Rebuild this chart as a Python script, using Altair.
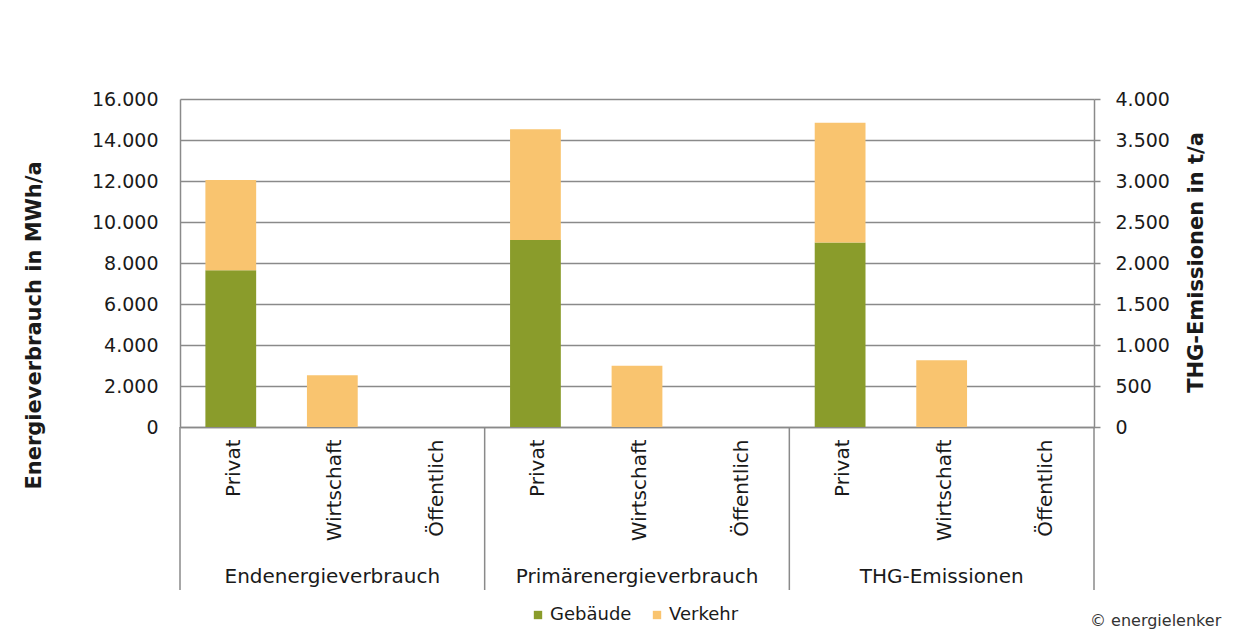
import altair as alt
import pandas as pd

# ---- data ----
groups = ["Endenergieverbrauch", "Primärenergieverbrauch", "THG-Emissionen"]
sectors = ["Privat", "Wirtschaft", "Öffentlich"]
components = ["Gebäude", "Verkehr"]

# Energy (MWh/a), left axis
end_gebaeude = [7650, 0, 0]
end_verkehr = [4400, 2530, 0]
prim_gebaeude = [9120, 0, 0]
prim_verkehr = [5400, 2990, 0]
# Emissions (t/a), right axis
thg_gebaeude = [2250, 0, 0]
thg_verkehr = [1460, 815, 0]

left_ticks = list(range(0, 16001, 2000))
right_ticks = list(range(0, 4001, 500))

colors = ["#8A9C2B", "#F9C46F"]

# ---- build tables ----
cats = [f"{g}|{s}" for g in groups for s in sectors]

def rows(group, geb, ver):
    out = []
    for i, s in enumerate(sectors):
        out.append({"cat": f"{group}|{s}", "comp": "Gebäude", "ord": 0, "v": geb[i]})
        out.append({"cat": f"{group}|{s}", "comp": "Verkehr", "ord": 1, "v": ver[i]})
    return out

energy = pd.DataFrame(rows(groups[0], end_gebaeude, end_verkehr) + rows(groups[1], prim_gebaeude, prim_verkehr))
thg = pd.DataFrame(rows(groups[2], thg_gebaeude, thg_verkehr))

W, H = 914, 328
FONT = "DejaVu Sans"
TXT = "#1a1a1a"
GRID = "#8a8a8a"

xscale = alt.Scale(domain=cats, paddingInner=0, paddingOuter=0)
xaxis = alt.Axis(
    title=None, labelAngle=270, labelAlign="right", labelBaseline="middle",
    labelExpr="split(datum.value, '|')[1]", ticks=False, labelPadding=12,
    labelOffset=3,
    labelFontSize=20, labelFont=FONT, labelColor=TXT,
    domainColor=GRID, domainWidth=1.5, grid=False,
)
X = alt.X("cat:N", scale=xscale, axis=xaxis, sort=cats)

color = alt.Color("comp:N", scale=alt.Scale(domain=components, range=colors),
                  legend=alt.Legend(title=None, orient="none", direction="horizontal",
                                    legendX=349, legendY=507, symbolType="square",
                                    symbolSize=70, symbolStrokeWidth=0,
                                    labelFontSize=18, labelFont=FONT, labelColor=TXT,
                                    columnPadding=16, labelOffset=3))

left = alt.Chart(energy).mark_bar(width=alt.RelativeBandSize(0.5)).encode(
    x=X,
    y=alt.Y("v:Q", stack="zero", scale=alt.Scale(domain=[0, 16000], nice=False),
            axis=alt.Axis(orient="left", values=left_ticks,
                          labelExpr="replace(format(datum.value, ','), ',', '.')",
                          title="Energieverbrauch in MWh/a", titleAngle=270,
                          titleBaseline="middle", titleX=-146, titleY=226,
                          titleFontSize=21, titleFont=FONT, titleFontWeight="bold",
                          titleColor=TXT, labelFontSize=19, labelFont=FONT,
                          labelColor=TXT, ticks=False, labelPadding=22,
                          grid=True, gridColor=GRID, gridWidth=1.5,
                          domainColor=GRID, domainWidth=1.5)),
    color=color,
    order=alt.Order("ord:Q"),
)

right = alt.Chart(thg).mark_bar(width=alt.RelativeBandSize(0.5)).encode(
    x=X,
    y=alt.Y("v:Q", stack="zero", scale=alt.Scale(domain=[0, 4000], nice=False),
            axis=alt.Axis(orient="right", values=right_ticks,
                          labelExpr="replace(format(datum.value, ','), ',', '.')",
                          title="THG-Emissionen in t/a", titleAngle=270,
                          titleBaseline="middle", titleX=102, titleY=163,
                          titleFontSize=21, titleFont=FONT, titleFontWeight="bold",
                          titleColor=TXT, labelFontSize=19, labelFont=FONT,
                          labelColor=TXT, ticks=True, tickSize=6, tickColor=GRID,
                          tickWidth=1.5, labelPadding=15, grid=False,
                          domainColor=GRID, domainWidth=1.5)),
    color=color,
    order=alt.Order("ord:Q"),
)

# group separators below the axis
sep_start = pd.DataFrame({"cat": [f"{g}|{sectors[0]}" for g in groups]})
sep_end = pd.DataFrame({"cat": [f"{groups[-1]}|{sectors[-1]}"]})
sep1 = alt.Chart(sep_start).mark_rule(color=GRID, strokeWidth=1.5).encode(
    x=alt.X("cat:N", scale=xscale, sort=cats, bandPosition=0, axis=xaxis),
    y=alt.value(H), y2=alt.value(H + 163))
sep2 = alt.Chart(sep_end).mark_rule(color=GRID, strokeWidth=1.5).encode(
    x=alt.X("cat:N", scale=xscale, sort=cats, bandPosition=1, axis=xaxis),
    y=alt.value(H), y2=alt.value(H + 163))

# group labels
glab = pd.DataFrame({"cat": [f"{g}|{sectors[1]}" for g in groups], "label": groups})
group_text = alt.Chart(glab).mark_text(fontSize=20, font=FONT, color=TXT,
                                       baseline="middle", align="center").encode(
    x=X, y=alt.value(H + 150), text="label:N")

credit = alt.Chart(pd.DataFrame({"t": ["© energielenker"]})).mark_text(
    fontSize=16, font=FONT, color="#333333", align="left", baseline="middle").encode(
    x=alt.value(W - 4), y=alt.value(H + 194), text="t:N")

chart = alt.layer(left, right, sep1, sep2, group_text, credit).resolve_scale(
    y="independent"
).properties(
    width=W, height=H,
    autosize=alt.AutoSizeParams(type="none"),
    padding={"left": 180, "top": 99, "right": 165, "bottom": 210},
    background="white",
).configure_view(strokeWidth=0)

chart.save("out.html", embed_options={"renderer": "svg", "actions": False})
